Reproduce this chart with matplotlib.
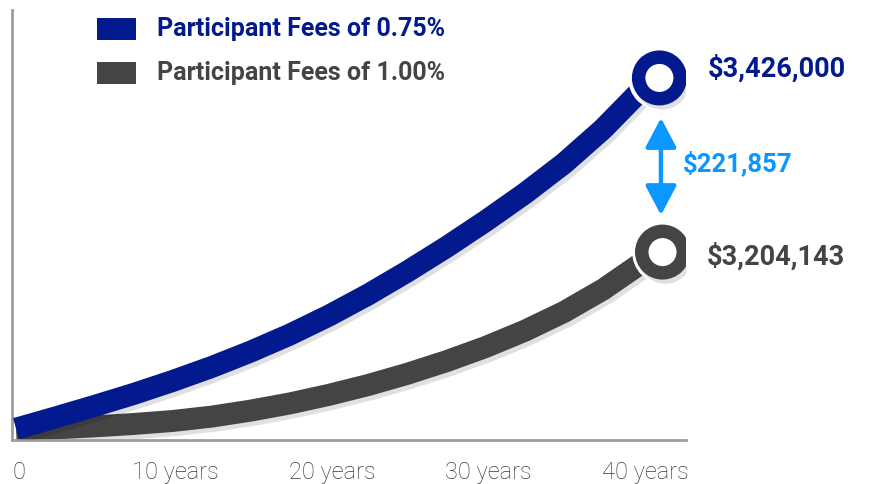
import matplotlib
matplotlib.use('Agg')
import matplotlib.pyplot as plt
import matplotlib.patheffects as pe
from matplotlib.patches import Rectangle
from matplotlib.transforms import ScaledTranslation

plt.rcParams['font.family'] = ['Roboto', 'DejaVu Sans']

# ---- data (index scale) ----
years = [0, 2.5, 5, 7.5, 10, 12.5, 15, 17.5, 20, 22.5, 25, 27.5, 30, 32.5, 35, 37.5, 40]
fees_075 = [2.63, 5.23, 7.91, 10.70, 13.72, 16.98, 20.58, 24.53, 28.95,
            33.84, 39.19, 44.88, 50.93, 57.33, 64.30, 72.33, 81.63]
fees_100 = [2.28, 2.70, 3.16, 3.72, 4.42, 5.44, 6.84, 8.51, 10.51,
            12.79, 15.40, 18.33, 21.63, 25.40, 29.77, 35.00, 41.28]
series_names = ['Participant Fees of 0.75%', 'Participant Fees of 1.00%']
end_x = [41.1, 41.3]
end_y = [84.2, 43.7]
end_labels = ['$3,426,000', '$3,204,143']
gap_label = '$221,857'
tick_years = [0, 10, 20, 30, 40]
tick_labels = ['0', '10 years', '20 years', '30 years', '40 years']

BLUE = '#021A8E'
GRAY = '#444444'
ARROW = '#0A97FF'
SPINE = '#9E9E9E'

W, H = 870, 484
fig = plt.figure(figsize=(W / 100, H / 100), dpi=100)
ax = fig.add_axes([12 / W, 1 - 440 / H, (686 - 12) / W, (440 - 10) / H])
ax.set_xlim(-0.26, 42.8)
ax.set_ylim(0, 100)

shadow = [pe.SimpleLineShadow(offset=(2, -3), shadow_color='black', alpha=0.12), pe.Normal()]

series = [(fees_100, GRAY, 2), (fees_075, BLUE, 3)]
for vals, col, z in series:
    ax.plot(years, vals, color=col, lw=15.8, solid_capstyle='butt',
            solid_joinstyle='round', zorder=z, path_effects=shadow)

# end markers (blue = index 0, gray = index 1)
cols = [BLUE, GRAY]
for i in range(2):
    ax.plot([end_x[i]], [end_y[i]], 'o', ms=45, color='white', mew=0, zorder=5)
    ax.plot([end_x[i]], [end_y[i]], 'o', ms=29.9, mfc='white', mec=cols[i], mew=9.7,
            zorder=6, path_effects=shadow)

ax.annotate(end_labels[0], xy=(end_x[0], end_y[0]), xytext=(34.5, 7),
            textcoords='offset points', ha='left', va='center', fontsize=19.5,
            fontweight='bold', color=BLUE)
ax.annotate(end_labels[1], xy=(end_x[1], end_y[1]), xytext=(31.7, -3),
            textcoords='offset points', ha='left', va='center', fontsize=19.5,
            fontweight='bold', color=GRAY)

# difference arrow
ax_x = (end_x[0] + end_x[1]) / 2
ax.annotate('', xy=(ax_x, end_y[0] - 9.3), xytext=(ax_x, end_y[1] + 8.6),
            arrowprops=dict(arrowstyle='<|-|>,head_length=1.8,head_width=0.95',
                            mutation_scale=10, lw=3.2, color=ARROW,
                            shrinkA=0, shrinkB=0), zorder=4)
ax.annotate(gap_label, xy=(ax_x, (end_y[0] + end_y[1]) / 2), xytext=(16, 1),
            textcoords='offset points', ha='left', va='center', fontsize=18.5,
            fontweight='bold', color=ARROW)

# axes styling
for s in ['top', 'right']:
    ax.spines[s].set_visible(False)
for s in ['left', 'bottom']:
    ax.spines[s].set_color(SPINE)
    ax.spines[s].set_linewidth(2)
ax.set_yticks([])
ax.set_xticks(tick_years)
ax.set_xticklabels(tick_labels, fontsize=17, fontweight='light', color='#3A3A3A')
ax.tick_params(axis='x', length=0, pad=15)
off = ScaledTranslation(3 / 100, 0, fig.dpi_scale_trans)
for lbl in ax.get_xticklabels():
    lbl.set_transform(lbl.get_transform() + off)

# legend
leg_cols = [BLUE, GRAY]
leg_rows = [29, 73]
for name, col, yc in zip(series_names, leg_cols, leg_rows):
    fig.add_artist(Rectangle((97 / W, 1 - (yc + 10.5) / H), 39 / W, 21 / H,
                             transform=fig.transFigure, color=col, lw=0))
    fig.text(157 / W, 1 - yc / H, name, ha='left', va='center', fontsize=18,
             fontweight='bold', color=col)

fig.savefig('out.png', dpi=100)
